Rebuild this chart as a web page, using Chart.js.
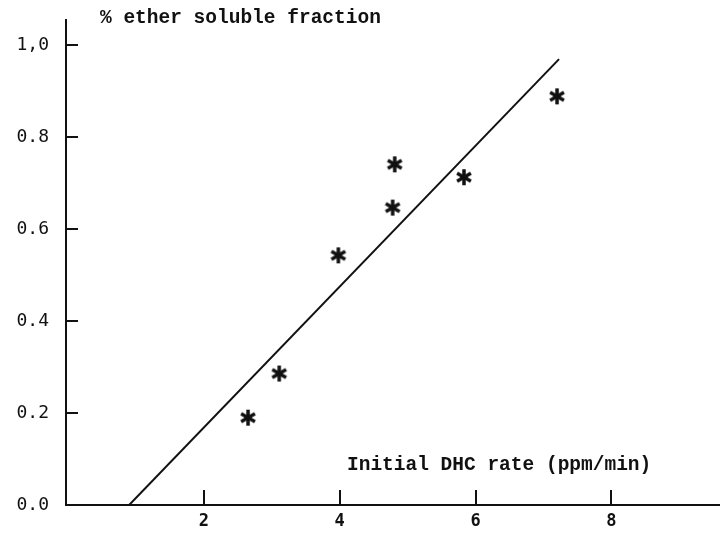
<!DOCTYPE html>
<html>
<head>
<meta charset="utf-8">
<script src="https://cdn.jsdelivr.net/npm/chart.js@4.4.0/dist/chart.umd.min.js"></script>
<style>
  html, body { margin: 0; padding: 0; background: #fff; }
  canvas { display: block; }
</style>
</head>
<body>
<canvas id="chart" width="720" height="533"></canvas>
<script>
// measured points (initial DHC rate, ether soluble fraction)
const rateValues = [2.65, 3.11, 3.98, 4.81, 4.78, 5.83, 7.20];
const fractionValues = [0.19, 0.286, 0.543, 0.741, 0.647, 0.713, 0.889];

// fitted line end points
const fitX = [0.90, 7.23];
const fitY = [0.0, 0.970];

const xTicks = [2, 4, 6, 8];
const yTicks = [0, 0.2, 0.4, 0.6, 0.8, 1.0];
const yTickLabels = ['0.0', '0.2', '0.4', '0.6', '0.8', '1,0'];

const yTitle = '% ether soluble fraction';
const xTitle = 'Initial DHC rate (ppm/min)';

const ink = '#111';

// typewriter style asterisk used as point style
function makeAsterisk(size) {
    const c = document.createElement('canvas');
    c.width = size; c.height = size;
    const g = c.getContext('2d');
    g.strokeStyle = ink;
    g.lineWidth = 3.5;
    g.lineCap = 'butt';
    const r = size / 2 - 1;
    g.translate(size / 2, size / 2);
    [90, 30, 150].forEach(a => {
        const t = a * Math.PI / 180;
        g.beginPath();
        g.moveTo(-r * Math.cos(t), -r * Math.sin(t));
        g.lineTo(r * Math.cos(t), r * Math.sin(t));
        g.stroke();
    });
    return c;
}
const star = makeAsterisk(18);

const points = rateValues.map((x, i) => ({ x, y: fractionValues[i] }));
const fitLine = fitX.map((x, i) => ({ x, y: fitY[i] }));

// inward tick marks and the two axis titles
const decorations = {
    id: 'decorations',
    afterDraw(chart) {
        const ctx = chart.ctx;
        const { x, y } = chart.scales;
        const area = chart.chartArea;
        ctx.save();
        ctx.strokeStyle = ink;
        ctx.lineWidth = 2;
        xTicks.forEach(v => {
            const px = Math.round(x.getPixelForValue(v));
            ctx.beginPath();
            ctx.moveTo(px, area.bottom);
            ctx.lineTo(px, area.bottom - 15);
            ctx.stroke();
        });
        yTicks.forEach(v => {
            if (v === 0) return;
            const py = Math.round(y.getPixelForValue(v));
            ctx.beginPath();
            ctx.moveTo(area.left, py);
            ctx.lineTo(area.left + 12, py);
            ctx.stroke();
        });
        ctx.fillStyle = ink;
        ctx.textBaseline = 'middle';
        ctx.textAlign = 'left';
        ctx.font = 'bold 19.5px "Liberation Mono", monospace';
        ctx.fillText(yTitle, area.left + 34, 18);
        ctx.fillText(xTitle, area.left + 281, 465);
        ctx.restore();
    }
};

new Chart(document.getElementById('chart'), {
    type: 'scatter',
    data: {
        datasets: [{
            label: 'fit',
            data: fitLine,
            showLine: true,
            borderColor: ink,
            borderWidth: 2,
            pointRadius: 0,
            fill: false
        }, {
            label: 'measured',
            data: points,
            pointStyle: star,
            pointRadius: 9,
            showLine: false
        }]
    },
    options: {
        responsive: false,
        animation: false,
        layout: { autoPadding: false, padding: { top: 20, right: 0, left: 0, bottom: 0 } },
        plugins: {
            legend: { display: false },
            tooltip: { enabled: false }
        },
        scales: {
            x: {
                type: 'linear',
                min: -0.03,
                max: 9.6,
                afterBuildTicks: s => { s.ticks = xTicks.map(v => ({ value: v })); },
                afterFit: s => { s.height = 28; s.paddingLeft = 0; s.paddingRight = 0; },
                grid: { display: false, drawTicks: false },
                border: { display: true, color: ink, width: 2 },
                ticks: {
                    color: ink,
                    padding: 6,
                    autoSkip: false,
                    maxRotation: 0,
                    font: { family: '"DejaVu Sans Mono", monospace', size: 17, weight: 'bold' }
                }
            },
            y: {
                type: 'linear',
                min: 0,
                max: 1.055,
                afterBuildTicks: s => { s.ticks = yTicks.map(v => ({ value: v })); },
                afterFit: s => { s.width = 66; s.paddingTop = 0; s.paddingBottom = 0; },
                grid: { display: false, drawTicks: false },
                border: { display: true, color: ink, width: 2 },
                ticks: {
                    color: ink,
                    padding: 17,
                    autoSkip: false,
                    font: { family: '"DejaVu Sans Mono", monospace', size: 18 },
                    callback: (v, i) => yTickLabels[i]
                }
            }
        }
    },
    plugins: [decorations]
});
</script>
</body>
</html>
